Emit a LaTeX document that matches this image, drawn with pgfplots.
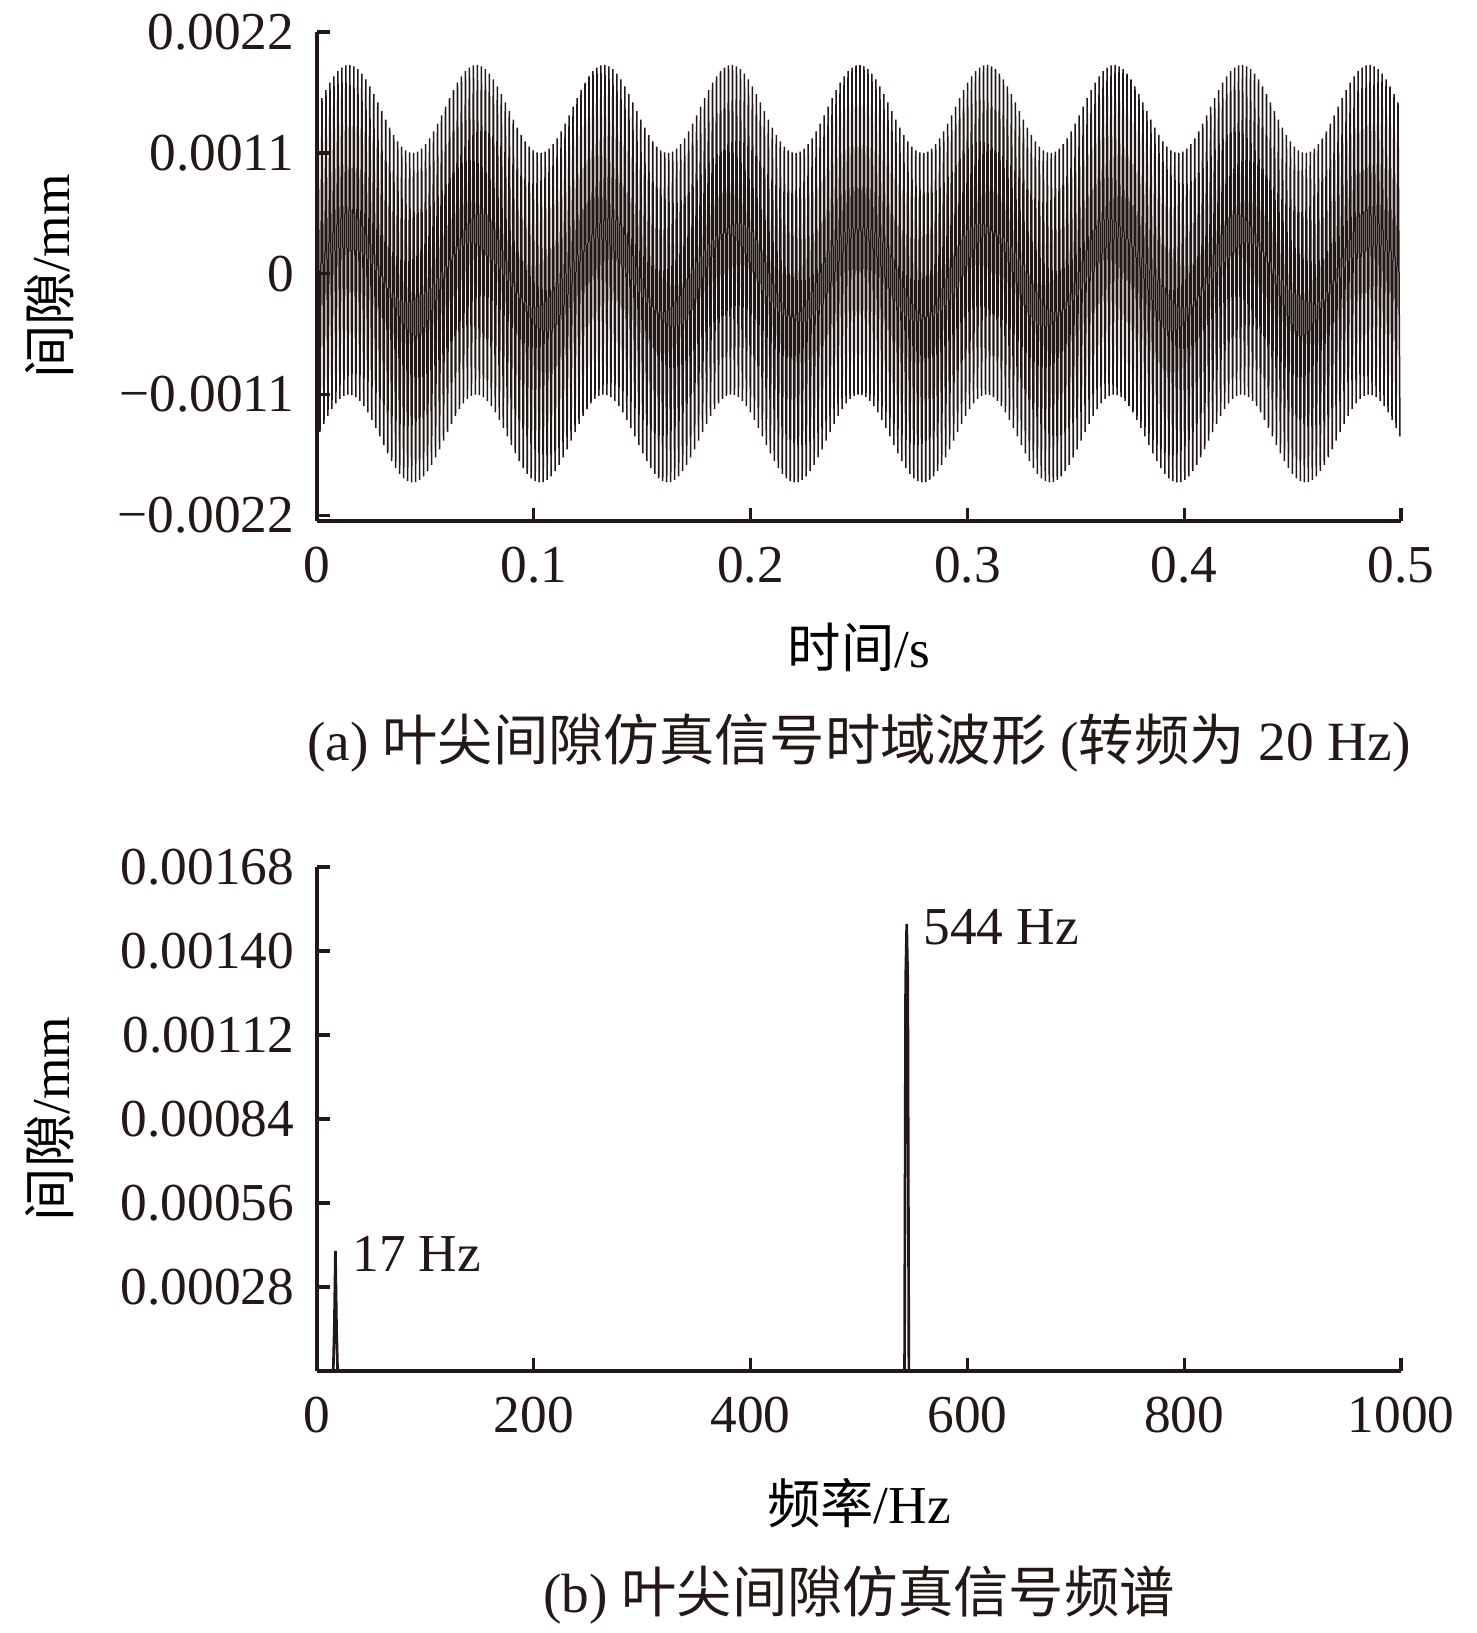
\documentclass[border=0pt]{standalone}
\usepackage{fontspec}
\setmainfont{Liberation Serif}
\newfontfamily\cjk{Noto Sans CJK SC}
\usepackage{pgfplots}
\usepackage{pgfplotstable}
\pgfplotsset{compat=1.18}
\definecolor{ink}{RGB}{35,24,21}

% tip-clearance signal: successive extrema (peak, trough, ...) sampled at t=(2i+1)/2176 s
\pgfplotstableread[row sep=\\]{
y\\
0.0015196\\ -0.0014413\\ 0.0015972\\ -0.0013652\\ 0.0016710\\ -0.0012944\\ 0.0017383\\ -0.0012314\\
0.0017964\\ -0.0011787\\ 0.0018431\\ -0.0011384\\ 0.0018766\\ -0.0011120\\ 0.0018957\\ -0.0011005\\
0.0018995\\ -0.0011043\\ 0.0018880\\ -0.0011234\\ 0.0018616\\ -0.0011569\\ 0.0018213\\ -0.0012036\\
0.0017686\\ -0.0012617\\ 0.0017056\\ -0.0013290\\ 0.0016348\\ -0.0014028\\ 0.0015587\\ -0.0014804\\
0.0014804\\ -0.0015587\\ 0.0014028\\ -0.0016348\\ 0.0013290\\ -0.0017056\\ 0.0012617\\ -0.0017686\\
0.0012036\\ -0.0018213\\ 0.0011569\\ -0.0018616\\ 0.0011234\\ -0.0018880\\ 0.0011043\\ -0.0018995\\
0.0011005\\ -0.0018957\\ 0.0011120\\ -0.0018766\\ 0.0011384\\ -0.0018431\\ 0.0011787\\ -0.0017964\\
0.0012314\\ -0.0017383\\ 0.0012944\\ -0.0016710\\ 0.0013652\\ -0.0015972\\ 0.0014413\\ -0.0015196\\
0.0015196\\ -0.0014413\\ 0.0015972\\ -0.0013652\\ 0.0016710\\ -0.0012944\\ 0.0017383\\ -0.0012314\\
0.0017964\\ -0.0011787\\ 0.0018431\\ -0.0011384\\ 0.0018766\\ -0.0011120\\ 0.0018957\\ -0.0011005\\
0.0018995\\ -0.0011043\\ 0.0018880\\ -0.0011234\\ 0.0018616\\ -0.0011569\\ 0.0018213\\ -0.0012036\\
0.0017686\\ -0.0012617\\ 0.0017056\\ -0.0013290\\ 0.0016348\\ -0.0014028\\ 0.0015587\\ -0.0014804\\
0.0014804\\ -0.0015587\\ 0.0014028\\ -0.0016348\\ 0.0013290\\ -0.0017056\\ 0.0012617\\ -0.0017686\\
0.0012036\\ -0.0018213\\ 0.0011569\\ -0.0018616\\ 0.0011234\\ -0.0018880\\ 0.0011043\\ -0.0018995\\
0.0011005\\ -0.0018957\\ 0.0011120\\ -0.0018766\\ 0.0011384\\ -0.0018431\\ 0.0011787\\ -0.0017964\\
0.0012314\\ -0.0017383\\ 0.0012944\\ -0.0016710\\ 0.0013652\\ -0.0015972\\ 0.0014413\\ -0.0015196\\
0.0015196\\ -0.0014413\\ 0.0015972\\ -0.0013652\\ 0.0016710\\ -0.0012944\\ 0.0017383\\ -0.0012314\\
0.0017964\\ -0.0011787\\ 0.0018431\\ -0.0011384\\ 0.0018766\\ -0.0011120\\ 0.0018957\\ -0.0011005\\
0.0018995\\ -0.0011043\\ 0.0018880\\ -0.0011234\\ 0.0018616\\ -0.0011569\\ 0.0018213\\ -0.0012036\\
0.0017686\\ -0.0012617\\ 0.0017056\\ -0.0013290\\ 0.0016348\\ -0.0014028\\ 0.0015587\\ -0.0014804\\
0.0014804\\ -0.0015587\\ 0.0014028\\ -0.0016348\\ 0.0013290\\ -0.0017056\\ 0.0012617\\ -0.0017686\\
0.0012036\\ -0.0018213\\ 0.0011569\\ -0.0018616\\ 0.0011234\\ -0.0018880\\ 0.0011043\\ -0.0018995\\
0.0011005\\ -0.0018957\\ 0.0011120\\ -0.0018766\\ 0.0011384\\ -0.0018431\\ 0.0011787\\ -0.0017964\\
0.0012314\\ -0.0017383\\ 0.0012944\\ -0.0016710\\ 0.0013652\\ -0.0015972\\ 0.0014413\\ -0.0015196\\
0.0015196\\ -0.0014413\\ 0.0015972\\ -0.0013652\\ 0.0016710\\ -0.0012944\\ 0.0017383\\ -0.0012314\\
0.0017964\\ -0.0011787\\ 0.0018431\\ -0.0011384\\ 0.0018766\\ -0.0011120\\ 0.0018957\\ -0.0011005\\
0.0018995\\ -0.0011043\\ 0.0018880\\ -0.0011234\\ 0.0018616\\ -0.0011569\\ 0.0018213\\ -0.0012036\\
0.0017686\\ -0.0012617\\ 0.0017056\\ -0.0013290\\ 0.0016348\\ -0.0014028\\ 0.0015587\\ -0.0014804\\
0.0014804\\ -0.0015587\\ 0.0014028\\ -0.0016348\\ 0.0013290\\ -0.0017056\\ 0.0012617\\ -0.0017686\\
0.0012036\\ -0.0018213\\ 0.0011569\\ -0.0018616\\ 0.0011234\\ -0.0018880\\ 0.0011043\\ -0.0018995\\
0.0011005\\ -0.0018957\\ 0.0011120\\ -0.0018766\\ 0.0011384\\ -0.0018431\\ 0.0011787\\ -0.0017964\\
0.0012314\\ -0.0017383\\ 0.0012944\\ -0.0016710\\ 0.0013652\\ -0.0015972\\ 0.0014413\\ -0.0015196\\
0.0015196\\ -0.0014413\\ 0.0015972\\ -0.0013652\\ 0.0016710\\ -0.0012944\\ 0.0017383\\ -0.0012314\\
0.0017964\\ -0.0011787\\ 0.0018431\\ -0.0011384\\ 0.0018766\\ -0.0011120\\ 0.0018957\\ -0.0011005\\
0.0018995\\ -0.0011043\\ 0.0018880\\ -0.0011234\\ 0.0018616\\ -0.0011569\\ 0.0018213\\ -0.0012036\\
0.0017686\\ -0.0012617\\ 0.0017056\\ -0.0013290\\ 0.0016348\\ -0.0014028\\ 0.0015587\\ -0.0014804\\
0.0014804\\ -0.0015587\\ 0.0014028\\ -0.0016348\\ 0.0013290\\ -0.0017056\\ 0.0012617\\ -0.0017686\\
0.0012036\\ -0.0018213\\ 0.0011569\\ -0.0018616\\ 0.0011234\\ -0.0018880\\ 0.0011043\\ -0.0018995\\
0.0011005\\ -0.0018957\\ 0.0011120\\ -0.0018766\\ 0.0011384\\ -0.0018431\\ 0.0011787\\ -0.0017964\\
0.0012314\\ -0.0017383\\ 0.0012944\\ -0.0016710\\ 0.0013652\\ -0.0015972\\ 0.0014413\\ -0.0015196\\
0.0015196\\ -0.0014413\\ 0.0015972\\ -0.0013652\\ 0.0016710\\ -0.0012944\\ 0.0017383\\ -0.0012314\\
0.0017964\\ -0.0011787\\ 0.0018431\\ -0.0011384\\ 0.0018766\\ -0.0011120\\ 0.0018957\\ -0.0011005\\
0.0018995\\ -0.0011043\\ 0.0018880\\ -0.0011234\\ 0.0018616\\ -0.0011569\\ 0.0018213\\ -0.0012036\\
0.0017686\\ -0.0012617\\ 0.0017056\\ -0.0013290\\ 0.0016348\\ -0.0014028\\ 0.0015587\\ -0.0014804\\
0.0014804\\ -0.0015587\\ 0.0014028\\ -0.0016348\\ 0.0013290\\ -0.0017056\\ 0.0012617\\ -0.0017686\\
0.0012036\\ -0.0018213\\ 0.0011569\\ -0.0018616\\ 0.0011234\\ -0.0018880\\ 0.0011043\\ -0.0018995\\
0.0011005\\ -0.0018957\\ 0.0011120\\ -0.0018766\\ 0.0011384\\ -0.0018431\\ 0.0011787\\ -0.0017964\\
0.0012314\\ -0.0017383\\ 0.0012944\\ -0.0016710\\ 0.0013652\\ -0.0015972\\ 0.0014413\\ -0.0015196\\
0.0015196\\ -0.0014413\\ 0.0015972\\ -0.0013652\\ 0.0016710\\ -0.0012944\\ 0.0017383\\ -0.0012314\\
0.0017964\\ -0.0011787\\ 0.0018431\\ -0.0011384\\ 0.0018766\\ -0.0011120\\ 0.0018957\\ -0.0011005\\
0.0018995\\ -0.0011043\\ 0.0018880\\ -0.0011234\\ 0.0018616\\ -0.0011569\\ 0.0018213\\ -0.0012036\\
0.0017686\\ -0.0012617\\ 0.0017056\\ -0.0013290\\ 0.0016348\\ -0.0014028\\ 0.0015587\\ -0.0014804\\
0.0014804\\ -0.0015587\\ 0.0014028\\ -0.0016348\\ 0.0013290\\ -0.0017056\\ 0.0012617\\ -0.0017686\\
0.0012036\\ -0.0018213\\ 0.0011569\\ -0.0018616\\ 0.0011234\\ -0.0018880\\ 0.0011043\\ -0.0018995\\
0.0011005\\ -0.0018957\\ 0.0011120\\ -0.0018766\\ 0.0011384\\ -0.0018431\\ 0.0011787\\ -0.0017964\\
0.0012314\\ -0.0017383\\ 0.0012944\\ -0.0016710\\ 0.0013652\\ -0.0015972\\ 0.0014413\\ -0.0015196\\
0.0015196\\ -0.0014413\\ 0.0015972\\ -0.0013652\\ 0.0016710\\ -0.0012944\\ 0.0017383\\ -0.0012314\\
0.0017964\\ -0.0011787\\ 0.0018431\\ -0.0011384\\ 0.0018766\\ -0.0011120\\ 0.0018957\\ -0.0011005\\
0.0018995\\ -0.0011043\\ 0.0018880\\ -0.0011234\\ 0.0018616\\ -0.0011569\\ 0.0018213\\ -0.0012036\\
0.0017686\\ -0.0012617\\ 0.0017056\\ -0.0013290\\ 0.0016348\\ -0.0014028\\ 0.0015587\\ -0.0014804\\
0.0014804\\ -0.0015587\\ 0.0014028\\ -0.0016348\\ 0.0013290\\ -0.0017056\\ 0.0012617\\ -0.0017686\\
0.0012036\\ -0.0018213\\ 0.0011569\\ -0.0018616\\ 0.0011234\\ -0.0018880\\ 0.0011043\\ -0.0018995\\
0.0011005\\ -0.0018957\\ 0.0011120\\ -0.0018766\\ 0.0011384\\ -0.0018431\\ 0.0011787\\ -0.0017964\\
0.0012314\\ -0.0017383\\ 0.0012944\\ -0.0016710\\ 0.0013652\\ -0.0015972\\ 0.0014413\\ -0.0015196\\
0.0015196\\ -0.0014413\\ 0.0015972\\ -0.0013652\\ 0.0016710\\ -0.0012944\\ 0.0017383\\ -0.0012314\\
0.0017964\\ -0.0011787\\ 0.0018431\\ -0.0011384\\ 0.0018766\\ -0.0011120\\ 0.0018957\\ -0.0011005\\
0.0018995\\ -0.0011043\\ 0.0018880\\ -0.0011234\\ 0.0018616\\ -0.0011569\\ 0.0018213\\ -0.0012036\\
0.0017686\\ -0.0012617\\ 0.0017056\\ -0.0013290\\ 0.0016348\\ -0.0014028\\ 0.0015587\\ -0.0014804\\
}\gapdata

\pgfplotsset{
  myax/.style={
    scale only axis, width=325.2pt, anchor=south west,
    enlargelimits=false,
    scaled x ticks=false, scaled y ticks=false,
    axis x line*=bottom, axis y line*=left,
    axis line style={line width=1pt, draw=ink},
    every tick/.style={line width=1pt, draw=ink},
    tick align=inside, major tick length=4pt,
    tick label style={font=\fontsize{16}{19}\selectfont, text=ink},
    yticklabel style={inner sep=0pt, xshift=-6.6pt, anchor=east},
    xticklabel style={inner sep=0pt, yshift=-7.5pt, anchor=north},
    label style={font=\fontsize{16}{19}\selectfont, text=ink},
  }
}

\begin{document}
\fontsize{16}{19}\selectfont
\begin{tikzpicture}
\path[use as bounding box] (0,0) rectangle (442.8pt,489.9pt);

% (a) time-domain waveform
\begin{axis}[myax, at={(95.1pt,333.6pt)}, height=146.7pt,
  xmin=0, xmax=0.5, ymin=-0.00225, ymax=0.0022,
  xtick={0,0.1,0.2,0.3,0.4,0.5},
  xticklabels={0,0.1,0.2,0.3,0.4,0.5},
  ytick={-0.0022,-0.0011,0,0.0011,0.0022},
  yticklabels={−0.0022,−0.0011,0,0.0011,0.0022},
  xlabel={{\cjk 时间}/s},
  ylabel={{\cjk 间隙}/mm},
  every axis x label/.style={at={(axis description cs:0.5,-0.2577)}, anchor=center},
  every axis y label/.style={at={(axis description cs:-0.2472,0.5)}, rotate=90, anchor=center},
]
\addplot[draw=ink, line width=0.45pt, no markers]
  table[x expr={(2*\coordindex+1)/2176}, y=y] {\gapdata};
\end{axis}

% (b) spectrum
\begin{axis}[myax, at={(95.1pt,78.6pt)}, height=151.2pt,
  xmin=0, xmax=1000, ymin=0, ymax=0.00168,
  xtick={0,200,400,600,800,1000},
  xticklabels={0,200,400,600,800,1000},
  ytick={0.00028,0.00056,0.00084,0.00112,0.00140,0.00168},
  yticklabels={0.00028,0.00056,0.00084,0.00112,0.00140,0.00168},
  xlabel={{\cjk 频率}/Hz},
  ylabel={{\cjk 间隙}/mm},
  every axis x label/.style={at={(axis description cs:0.5,-0.2619)}, anchor=center},
  every axis y label/.style={at={(axis description cs:-0.2472,0.5)}, rotate=90, anchor=center},
]
\addplot[draw=ink, line width=0.8pt, no markers] coordinates {
  (0,0) (15,0) (16,0.00015) (17,0.0004) (18,0.00015) (19,0)
  (542,0) (543,0.0013) (544,0.00149) (545,0.0013) (546,0) (700,0)
};
\node[anchor=base west, inner sep=0pt, text=ink] at (axis cs:32,0.000333) {17 Hz};
\node[anchor=base west, inner sep=0pt, text=ink] at (axis cs:559,0.00142) {544 Hz};
\end{axis}

\node[anchor=center, text=ink, font=\fontsize{16.6}{19}\selectfont] at (257.7pt,267pt) {(a) {\cjk 叶尖间隙仿真信号时域波形} ({\cjk 转频为} 20 Hz)};
\node[anchor=center, text=ink, font=\fontsize{16.6}{19}\selectfont] at (257.7pt,11.4pt) {(b) {\cjk 叶尖间隙仿真信号频谱}};
\end{tikzpicture}
\end{document}
